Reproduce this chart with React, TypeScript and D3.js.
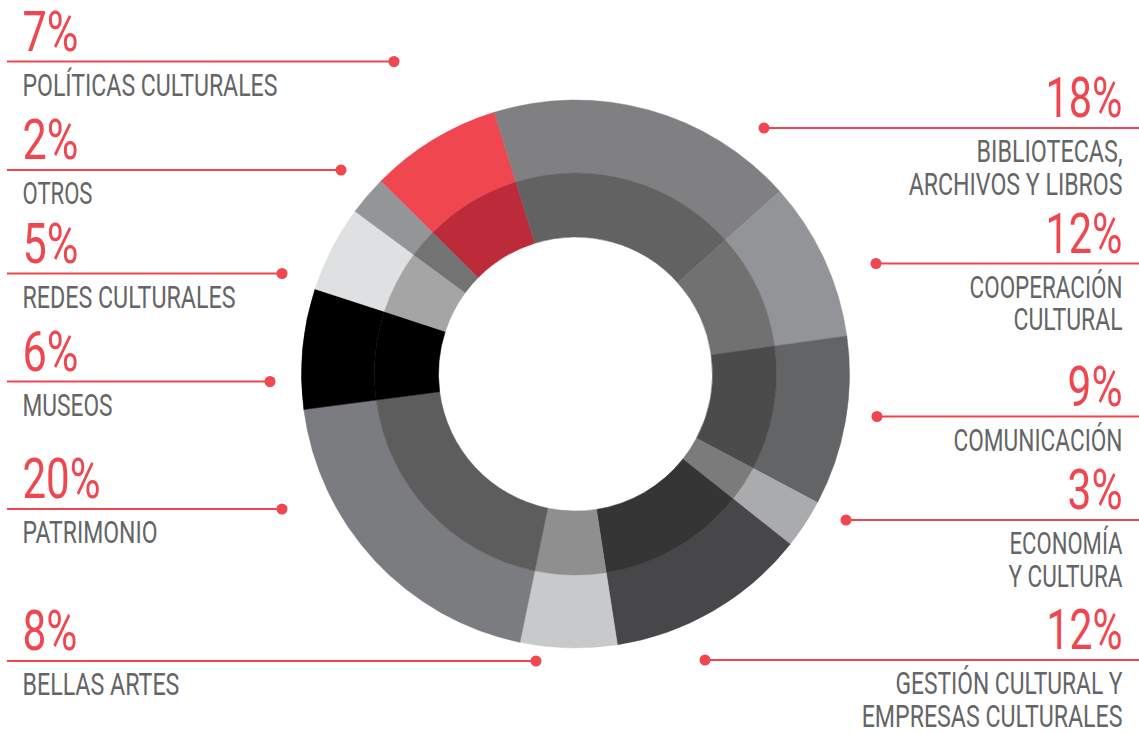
import React, { useLayoutEffect, useRef, useState } from "react";
import * as d3 from "d3";

// ---------- data ----------
const categories = [
  "POLÍTICAS CULTURALES",
  "BIBLIOTECAS, ARCHIVOS Y LIBROS",
  "COOPERACIÓN CULTURAL",
  "COMUNICACIÓN",
  "ECONOMÍA Y CULTURA",
  "GESTIÓN CULTURAL Y EMPRESAS CULTURALES",
  "BELLAS ARTES",
  "PATRIMONIO",
  "MUSEOS",
  "REDES CULTURALES",
  "OTROS",
];
const labelLines = [
  ["POLÍTICAS CULTURALES"],
  ["BIBLIOTECAS,", "ARCHIVOS Y LIBROS"],
  ["COOPERACIÓN", "CULTURAL"],
  ["COMUNICACIÓN"],
  ["ECONOMÍA", "Y CULTURA"],
  ["GESTIÓN CULTURAL Y", "EMPRESAS CULTURALES"],
  ["BELLAS ARTES"],
  ["PATRIMONIO"],
  ["MUSEOS"],
  ["REDES CULTURALES"],
  ["OTROS"],
];
// printed percentages
const percentLabels = [7, 18, 12, 9, 3, 12, 8, 20, 6, 5, 2];
// slice sizes as drawn in the picture (share of the circle, %)
const sliceShares = [7.8, 18.2, 9.4, 10.0, 2.9, 11.9, 5.7, 19.7, 7.1, 5.1, 2.3];
const outerColors = [
  "#ef4650", "#808082", "#939497", "#636466", "#aaabad", "#474749",
  "#c8c9cb", "#7b7c80", "#000000", "#dfe0e2", "#939598",
];
const innerColors = [
  "#bd2a3a", "#626262", "#717171", "#4b4b4b", "#7b7b7b", "#353535",
  "#8f8f8f", "#5d5d5d", "#000000", "#a5a5a5", "#737373",
];

// ---------- layout ----------
const W = 1139;
const H = 734;
const cx = 575.5;
const cy = 374;
const rOuter = 274;
const rMid = 201;
const rInner = 137;
const startDeg = -45.3;
const RED = "#ef4650";
const GREY = "#646567";
const FONT = "Roboto, 'Liberation Sans', 'DejaVu Sans', sans-serif";
const leftTextX = 22.5;
const rightTextX = 1122.5;
const leftLineX = 7;
const rightLineX = 1139;

type Ann = { side: "left" | "right"; lineY: number; dotX: number; numW: number; lineWs: number[] };
const annotations: Ann[] = [
  { side: "left", lineY: 61.5, dotX: 394, numW: 56, lineWs: [255] },
  { side: "right", lineY: 128, dotX: 764, numW: 77, lineWs: [146, 214] },
  { side: "right", lineY: 263.5, dotX: 876, numW: 77, lineWs: [153, 109] },
  { side: "right", lineY: 416.5, dotX: 877, numW: 55, lineWs: [169] },
  { side: "right", lineY: 520, dotX: 846, numW: 55, lineWs: [113, 114] },
  { side: "right", lineY: 660, dotX: 705, numW: 76, lineWs: [227, 261] },
  { side: "left", lineY: 661, dotX: 536, numW: 55, lineWs: [157] },
  { side: "left", lineY: 509, dotX: 282, numW: 78, lineWs: [135] },
  { side: "left", lineY: 381.5, dotX: 270, numW: 56, lineWs: [90] },
  { side: "left", lineY: 273.5, dotX: 282, numW: 56, lineWs: [213] },
  { side: "left", lineY: 170, dotX: 341, numW: 56, lineWs: [70] },
];

type FitProps = {
  x: number;
  y: number;
  target: number;
  anchor: "start" | "end";
  fill: string;
  size: number;
  children: string;
};

function FitText({ x, y, target, anchor, fill, size, children }: FitProps) {
  const ref = useRef<SVGTextElement>(null);
  const [sx, setSx] = useState(1);
  useLayoutEffect(() => {
    if (ref.current) {
      const natural = ref.current.getComputedTextLength();
      if (natural > 0) setSx(target / natural);
    }
  }, [target, children]);
  return (
    <g transform={`translate(${x},${y}) scale(${sx},1)`}>
      <text ref={ref} x={0} y={0} fill={fill} fontSize={size} textAnchor={anchor}>
        {children}
      </text>
    </g>
  );
}

export default function App() {
  const start = (startDeg * Math.PI) / 180;
  const pie = d3
    .pie<number>()
    .sort(null)
    .value((d) => d)
    .startAngle(start)
    .endAngle(start + 2 * Math.PI);
  const arcsData = pie(sliceShares);
  const outerArc = d3.arc<d3.PieArcDatum<number>>().innerRadius(rMid).outerRadius(rOuter);
  const innerArc = d3.arc<d3.PieArcDatum<number>>().innerRadius(rInner).outerRadius(rMid);

  return (
    <svg
      width={W}
      height={H}
      style={{ position: "absolute", left: 0, top: 0, background: "#fff" }}
      fontFamily={FONT}
    >
      <g transform={`translate(${cx},${cy})`}>
        {arcsData.map((a, i) => (
          <g key={categories[i]}>
            <path d={outerArc(a) || ""} fill={outerColors[i]} stroke={outerColors[i]} strokeWidth={0.5} />
            <path d={innerArc(a) || ""} fill={innerColors[i]} stroke={innerColors[i]} strokeWidth={0.5} />
          </g>
        ))}
      </g>
      {annotations.map((an, i) => {
        const left = an.side === "left";
        const x1 = left ? leftLineX : an.dotX;
        const x2 = left ? an.dotX : rightLineX;
        const tx = left ? leftTextX : rightTextX;
        const anchor = left ? "start" : "end";
        return (
          <g key={"ann" + i}>
            <line x1={x1} x2={x2} y1={an.lineY} y2={an.lineY} stroke={RED} strokeWidth={2} />
            <circle cx={an.dotX} cy={an.lineY} r={5.5} fill={RED} />
            <FitText x={tx} y={an.lineY - 11} target={an.numW} anchor={anchor} fill={RED} size={56}>
              {percentLabels[i] + "%"}
            </FitText>
            {labelLines[i].map((ln, j) => (
              <FitText
                key={ln}
                x={tx}
                y={an.lineY + 34 + j * 32.5}
                target={an.lineWs[j]}
                anchor={anchor}
                fill={GREY}
                size={32}
              >
                {ln}
              </FitText>
            ))}
          </g>
        );
      })}
    </svg>
  );
}
